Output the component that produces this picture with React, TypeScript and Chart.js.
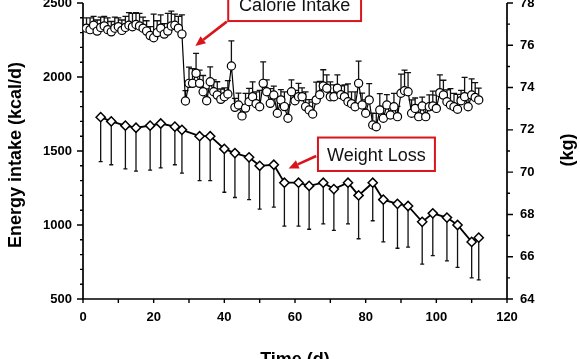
import React, { useEffect, useRef } from "react";
import { Chart, registerables } from "chart.js";

Chart.register(...registerables);

// ---------------- DATA ----------------
const calorieDays = [
  1, 2, 3, 4, 5, 6, 7, 8, 9, 10, 11, 12, 13, 14, 15, 16, 17, 18, 19, 20,
  21, 22, 23, 24, 25, 26, 27, 28, 29, 30, 31, 32, 33, 34, 35, 36, 37, 38, 39, 40,
  41, 42, 43, 44, 45, 46, 47, 48, 49, 50, 51, 52, 53, 54, 55, 56, 57, 58, 59, 60,
  61, 62, 63, 64, 65, 66, 67, 68, 69, 70, 71, 72, 73, 74, 75, 76, 77, 78, 79, 80,
  81, 82, 83, 84, 85, 86, 87, 88, 89, 90, 91, 92, 93, 94, 95, 96, 97, 98, 99, 100,
  101, 102, 103, 104, 105, 106, 107, 108, 109, 110, 111, 112,
];

const calorieValues = [
  2330, 2320, 2350, 2310, 2335, 2345, 2320, 2305, 2330, 2340, 2315, 2335, 2350, 2340,
  2355, 2345, 2330, 2310, 2280, 2265, 2300, 2330, 2290, 2310, 2345, 2350, 2330, 2290,
  1838, 1957, 1957, 2025, 1957, 1900, 1840, 1968, 1900, 1878, 1849, 1867, 1885, 2074,
  1795, 1811, 1737, 1790, 1833, 1867, 1820, 1799, 1957, 1900, 1822, 1878, 1755, 1845,
  1800, 1721, 1900, 1840, 1867, 1867, 1800, 1777, 1750, 1845, 1880, 1939, 1924, 1867,
  1867, 1924, 1880, 1867, 1833, 1820, 1799, 1957, 1811, 1755, 1845, 1676, 1664, 1777,
  1721, 1811, 1743, 1799, 1732, 1890, 1907, 1900, 1755, 1788, 1732, 1804, 1732, 1799,
  1804, 1788, 1894, 1878, 1833, 1811, 1799, 1782, 1840, 1867, 1799, 1878, 1862, 1845,
];

// upper error (kcal/d)
const calorieErrUp = [
  70, 80, 60, 75, 70, 65, 80, 70, 75, 60, 70, 75, 85, 90,
  80, 85, 75, 70, 60, 160, 80, 90, 70, 120, 100, 75, 80, 130,
  70, 110, 100, 135, 90, 110, 80, 100, 80, 90, 70, 60, 90, 170,
  60, 80, 70, 100, 90, 100, 80, 110, 145, 80, 100, 60, 110, 70,
  100, 90, 80, 70, 90, 60, 100, 70, 80, 120, 90, 110, 90, 100,
  80, 90, 60, 80, 120, 80, 100, 150, 80, 90, 110, 80, 90, 110,
  80, 70, 60, 90, 70, 130, 140, 130, 90, 70, 80, 60, 70, 80,
  100, 90, 120, 100, 80, 110, 90, 100, 70, 130, 90, 110, 100, 80,
];

const weightDays = [
  5, 8, 12, 15, 19, 22, 26, 28, 33, 36, 40, 43, 47, 50, 54, 57,
  61, 64, 68, 71, 75, 78, 82, 85, 89, 92, 96, 99, 103, 106, 110, 112,
];

const weightValues = [
  72.6, 72.4, 72.2, 72.1, 72.2, 72.3, 72.15, 72.0, 71.7, 71.7, 71.1, 70.9, 70.7, 70.3, 70.35, 69.5,
  69.5, 69.35, 69.5, 69.2, 69.5, 68.9, 69.5, 68.7, 68.5, 68.4, 67.65, 68.05, 67.85, 67.5, 66.7, 66.9,
];

// lower error (kg)
const weightErrDown = [
  2.1, 2.05, 2.05, 2.05, 2.1, 2.1, 1.8, 2.05, 2.1, 2.1, 2.05, 2.1, 2.0, 2.05, 2.0, 2.05,
  2.05, 2.05, 1.95, 1.95, 1.95, 2.05, 1.8, 2.0, 2.1, 1.95, 2.0, 2.0, 2.05, 2.0, 1.7, 2.0,
];

const xTicks = [0, 20, 40, 60, 80, 100, 120];
const energyTicks = [500, 1000, 1500, 2000, 2500];
const weightTicks = [64, 66, 68, 70, 72, 74, 76, 78];

const xTitle = "Time (d)";
const yTitle = "Energy intake (kcal/d)";
const y2Title = "(kg)";

// annotation boxes in data units (x: days, y: kcal/d)
const annotationTexts = ["Calorie Intake", "Weight Loss"];
const annotationBoxes = [
  [41.1, 78.7, 2378, 2620],
  [66.5, 99.6, 1365, 1591],
];
const annotationArrows = [
  [40.7, 2374, 31.8, 2210],
  [66.0, 1466, 58.2, 1382],
];

// ---------------- STYLE ----------------
const FONT = "'Liberation Sans', Arial, Helvetica, sans-serif";
const RED = "#d9141b";

const decorPlugin = {
  id: "decor",
  beforeDatasetsDraw(chart: any) {
    const { ctx, chartArea } = chart;
    const xs = chart.scales.x;
    const ys = chart.scales.y;
    const y2s = chart.scales.y2;
    ctx.save();
    // error bars
    ctx.strokeStyle = "#111";
    ctx.lineWidth = 1.3;
    ctx.beginPath();
    calorieDays.forEach((d, i) => {
      const px = xs.getPixelForValue(d);
      const p0 = ys.getPixelForValue(calorieValues[i]);
      const p1 = ys.getPixelForValue(calorieValues[i] + calorieErrUp[i]);
      ctx.moveTo(px, p0);
      ctx.lineTo(px, p1);
      ctx.moveTo(px - 3, p1);
      ctx.lineTo(px + 3, p1);
    });
    weightDays.forEach((d, i) => {
      const px = xs.getPixelForValue(d);
      const p0 = y2s.getPixelForValue(weightValues[i]);
      const p1 = y2s.getPixelForValue(weightValues[i] - weightErrDown[i]);
      ctx.moveTo(px, p0);
      ctx.lineTo(px, p1);
      ctx.moveTo(px - 2, p1);
      ctx.lineTo(px + 2, p1);
    });
    ctx.stroke();

    // axes lines
    ctx.strokeStyle = "#000";
    ctx.lineWidth = 1.7;
    ctx.beginPath();
    ctx.moveTo(chartArea.left, chartArea.top);
    ctx.lineTo(chartArea.left, chartArea.bottom);
    ctx.lineTo(chartArea.right, chartArea.bottom);
    ctx.moveTo(chartArea.right, chartArea.top);
    ctx.lineTo(chartArea.right, chartArea.bottom);
    ctx.stroke();

    // ticks
    ctx.lineWidth = 1.4;
    ctx.beginPath();
    for (let v = 0; v <= 120; v += 10) {
      const px = xs.getPixelForValue(v);
      ctx.moveTo(px, chartArea.bottom);
      ctx.lineTo(px, chartArea.bottom + 4);
    }
    for (let v = 500; v <= 2500; v += 100) {
      const py = ys.getPixelForValue(v);
      const len = v % 500 === 0 ? 6 : 3;
      ctx.moveTo(chartArea.left, py);
      ctx.lineTo(chartArea.left - len, py);
    }
    for (let v = 64; v <= 78; v += 1) {
      const py = y2s.getPixelForValue(v);
      const len = v % 2 === 0 ? 6 : 3;
      ctx.moveTo(chartArea.right, py);
      ctx.lineTo(chartArea.right + len, py);
    }
    ctx.stroke();
    ctx.restore();
  },
  afterDraw(chart: any) {
    const { ctx, chartArea } = chart;
    const xs = chart.scales.x;
    const ys = chart.scales.y;
    ctx.save();
    // axis titles
    ctx.fillStyle = "#000";
    ctx.font = `bold 18px ${FONT}`;
    ctx.textAlign = "center";
    ctx.textBaseline = "alphabetic";
    const cy = (chartArea.top + chartArea.bottom) / 2 + 4;
    ctx.save();
    ctx.translate(21, cy);
    ctx.rotate(-Math.PI / 2);
    ctx.fillText(yTitle, 0, 0);
    ctx.restore();
    ctx.save();
    ctx.translate(chartArea.right + 66, cy - 5);
    ctx.rotate(-Math.PI / 2);
    ctx.fillText(y2Title, 0, 0);
    ctx.restore();
    ctx.fillText(xTitle, (chartArea.left + chartArea.right) / 2, chartArea.bottom + 66);

    // annotations
    annotationTexts.forEach((t, i) => {
      const [x0, x1, yb, yt] = annotationBoxes[i];
      const L = xs.getPixelForValue(x0);
      const R = xs.getPixelForValue(x1);
      const B = ys.getPixelForValue(yb);
      const T = ys.getPixelForValue(yt);
      ctx.fillStyle = "#fff";
      ctx.fillRect(L, T, R - L, B - T);
      ctx.strokeStyle = RED;
      ctx.lineWidth = 2;
      ctx.strokeRect(L, T, R - L, B - T);
      ctx.fillStyle = "#111";
      ctx.font = `18px ${FONT}`;
      ctx.textAlign = "center";
      ctx.textBaseline = "alphabetic";
      ctx.fillText(t, (L + R) / 2, B - 10);

      const [ax0, ay0, ax1, ay1] = annotationArrows[i];
      const sx = xs.getPixelForValue(ax0);
      const sy = ys.getPixelForValue(ay0);
      const ex = xs.getPixelForValue(ax1);
      const ey = ys.getPixelForValue(ay1);
      const ang = Math.atan2(ey - sy, ex - sx);
      const headLen = 10;
      const headW = 4.5;
      const bx = ex - headLen * Math.cos(ang);
      const by = ey - headLen * Math.sin(ang);
      ctx.strokeStyle = RED;
      ctx.lineWidth = 2.6;
      ctx.beginPath();
      ctx.moveTo(sx, sy);
      ctx.lineTo(bx, by);
      ctx.stroke();
      ctx.fillStyle = RED;
      ctx.beginPath();
      ctx.moveTo(ex, ey);
      ctx.lineTo(bx + headW * Math.sin(ang), by - headW * Math.cos(ang));
      ctx.lineTo(bx - headW * Math.sin(ang), by + headW * Math.cos(ang));
      ctx.closePath();
      ctx.fill();
    });
    ctx.restore();
  },
};

export default function App() {
  const ref = useRef<HTMLCanvasElement | null>(null);

  useEffect(() => {
    if (!ref.current) return;
    const tickFont = { family: FONT, size: 13, weight: "bold" as const };
    const plain = (v: any) => String(v);
    const chart = new Chart(ref.current, {
      type: "line",
      data: {
        datasets: [
          {
            label: "Calorie Intake",
            data: calorieDays.map((d, i) => ({ x: d, y: calorieValues[i] })),
            yAxisID: "y",
            borderColor: "#000",
            borderWidth: 1.2,
            pointStyle: "circle",
            pointRadius: 4.1,
            pointBorderWidth: 1.2,
            pointBackgroundColor: "#fff",
            pointBorderColor: "#000",
            tension: 0,
          },
          {
            label: "Weight",
            data: weightDays.map((d, i) => ({ x: d, y: weightValues[i] })),
            yAxisID: "y2",
            borderColor: "#000",
            borderWidth: 1.8,
            pointStyle: "rectRot",
            pointRadius: 4.6,
            pointBorderWidth: 1.5,
            pointBackgroundColor: "#fff",
            pointBorderColor: "#000",
            tension: 0,
          },
        ],
      },
      options: {
        animation: false,
        responsive: false,
        maintainAspectRatio: false,
        devicePixelRatio: 1,
        layout: { padding: { top: 23, left: 0, right: 0, bottom: 0 } },
        plugins: {
          legend: { display: false },
          tooltip: { enabled: false },
        },
        scales: {
          x: {
            type: "linear",
            position: "bottom",
            min: 0,
            max: 120,
            afterBuildTicks: (s: any) => {
              s.ticks = xTicks.map((v) => ({ value: v }));
            },
            ticks: { font: tickFont, color: "#000", padding: 11, maxRotation: 0, autoSkip: false, callback: plain },
            grid: { display: false, drawTicks: false },
            border: { display: false },
            afterFit: (s: any) => {
              s.height = 71;
            },
          },
          y: {
            type: "linear",
            position: "left",
            min: 500,
            max: 2500,
            afterBuildTicks: (s: any) => {
              s.ticks = energyTicks.map((v) => ({ value: v }));
            },
            ticks: { font: tickFont, color: "#000", padding: 11, callback: plain },
            grid: { display: false, drawTicks: false },
            border: { display: false },
            afterFit: (s: any) => {
              s.width = 83;
            },
          },
          y2: {
            type: "linear",
            position: "right",
            min: 64,
            max: 78,
            afterBuildTicks: (s: any) => {
              s.ticks = weightTicks.map((v) => ({ value: v }));
            },
            ticks: { font: tickFont, color: "#000", padding: 13, callback: plain },
            grid: { display: false, drawTicks: false },
            border: { display: false },
            afterFit: (s: any) => {
              s.width = 73;
            },
          },
        },
      },
      plugins: [decorPlugin],
    });
    return () => chart.destroy();
  }, []);

  return (
    <div
      style={{
        position: "fixed",
        left: 0,
        top: 0,
        width: 580,
        height: 359,
        overflow: "hidden",
        background: "#fff",
      }}
    >
      <canvas
        ref={ref}
        width={580}
        height={390}
        style={{ position: "absolute", left: 0, top: -20, width: 580, height: 390 }}
      />
    </div>
  );
}
